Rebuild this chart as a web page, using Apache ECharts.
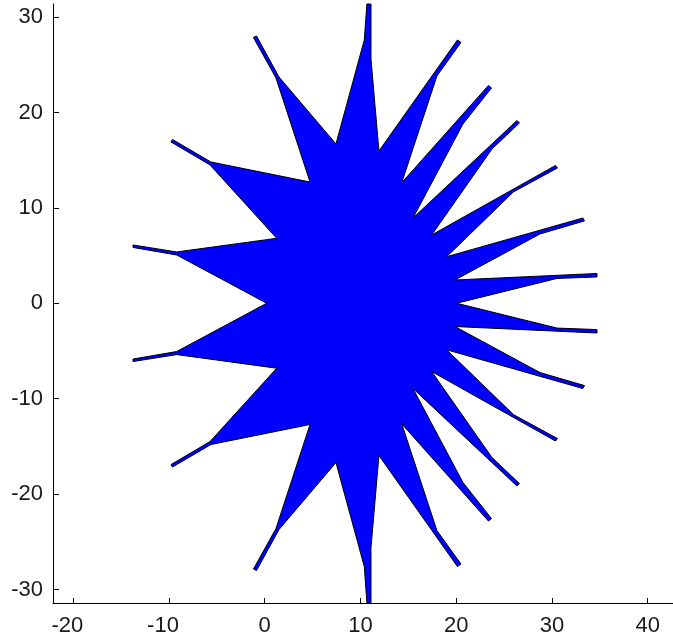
<!DOCTYPE html>
<html>
<head>
<meta charset="utf-8">
<title>Star polygon</title>
<script src="https://cdn.jsdelivr.net/npm/echarts@6/dist/echarts.min.js"></script>
<style>
  html, body { margin: 0; padding: 0; background: #ffffff; }
  #chart { width: 673px; height: 637px; }
</style>
</head>
<body>
<div id="chart"></div>
<script>
// Outline of the filled star, vertices listed clockwise starting at the left notch (y = 0).
const starX = [
  0.20, -9.20, -13.76, -13.76, -9.20, 1.25,
  -5.72, -9.79, -9.64, -5.62, 4.73,
  1.17, -1.18, -0.86, 1.49, 7.44,
  10.40, 10.67, 11.10, 11.10, 11.93,
  20.13, 20.50, 17.99, 14.31,
  23.37, 23.69, 20.71, 15.49,
  26.35, 26.61, 23.74, 17.44,
  30.37, 30.58, 25.98, 19.01,
  33.24, 33.40, 28.75, 19.87,
  34.71, 34.71, 30.53, 20.05,
  30.53, 34.71, 34.71, 19.87,
  28.75, 33.40, 33.24, 19.01,
  25.98, 30.58, 30.37, 17.44,
  23.74, 26.61, 26.35, 15.49,
  20.71, 23.69, 23.37, 14.31,
  17.99, 20.50, 20.13, 11.93,
  11.10, 11.10, 10.67, 10.40, 7.44,
  1.49, -0.86, -1.18, 1.17, 4.73,
  -5.62, -9.64, -9.79, -5.72, 1.25,
  -9.20, -13.76, -13.76, -9.20
];
const starY = [
  0.00, 5.06, 5.85, 6.11, 5.38, 6.81,
  14.50, 16.91, 17.17, 14.81, 12.71,
  23.62, 27.86, 28.02, 23.72, 16.70,
  27.60, 31.37, 31.37, 25.60, 15.96,
  27.60, 27.34, 23.83, 12.64,
  22.83, 22.57, 18.79, 8.94,
  19.16, 18.90, 16.17, 7.16,
  14.44, 14.18, 11.67, 4.88,
  8.94, 8.63, 7.26, 2.44,
  3.12, 2.76, 2.60, 0.00,
  -2.60, -2.76, -3.12, -2.44,
  -7.26, -8.63, -8.94, -4.88,
  -11.67, -14.18, -14.44, -7.16,
  -16.17, -18.90, -19.16, -8.94,
  -18.79, -22.57, -22.83, -12.64,
  -23.83, -27.34, -27.60, -15.96,
  -25.60, -31.40, -31.40, -27.60, -16.70,
  -23.72, -28.02, -27.86, -23.62, -12.71,
  -14.81, -17.17, -16.91, -14.50, -6.81,
  -5.38, -6.11, -5.85, -5.06
];

// Tick positions on each axis
const xTicks = [-20, -10, 0, 10, 20, 30, 40];
const yTicks = [-30, -20, -10, 0, 10, 20, 30];

const starPoints = starX.map((x, i) => [x, starY[i]]);

const labelFont = {
  fontFamily: '"Liberation Sans", Arial, sans-serif',
  fontSize: 22,
  color: '#1a1a1a'
};

const chart = echarts.init(document.getElementById('chart'), null, { renderer: 'canvas' });

chart.setOption({
  animation: false,
  backgroundColor: '#ffffff',
  grid: { left: 53, right: 0, top: 4, bottom: 34, containLabel: false },
  xAxis: {
    type: 'value',
    min: -22.12,
    max: 42.65,
    axisLine: { show: true, onZero: false, lineStyle: { color: '#000', width: 1 } },
    axisTick: { show: true, inside: true, length: 5, customValues: xTicks, lineStyle: { color: '#000', width: 1 } },
    axisLabel: Object.assign({
      margin: 12,
      customValues: xTicks,
      // negative labels sit a little left of their tick
      formatter: v => (v < 0 ? '{n|' + v + '}' : String(v)),
      rich: { n: Object.assign({ padding: [0, 12, 0, 0] }, labelFont) }
    }, labelFont),
    splitLine: { show: false }
  },
  yAxis: {
    type: 'value',
    min: -31.42,
    max: 31.37,
    axisLine: { show: true, onZero: false, lineStyle: { color: '#000', width: 1 } },
    axisTick: { show: true, inside: true, length: 6, customValues: yTicks, lineStyle: { color: '#000', width: 1 } },
    axisLabel: Object.assign({ margin: 10, customValues: yTicks }, labelFont),
    splitLine: { show: false }
  },
  series: [{
    type: 'custom',
    clip: false,
    data: starPoints,
    renderItem: function (params, api) {
      if (params.dataIndex !== 0) return null;
      const pts = starPoints.map(p => api.coord(p));
      return {
        type: 'polygon',
        shape: { points: pts },
        style: { fill: '#0000ff', stroke: '#000000', lineWidth: 1, lineJoin: 'miter' }
      };
    }
  }]
});
</script>
</body>
</html>
